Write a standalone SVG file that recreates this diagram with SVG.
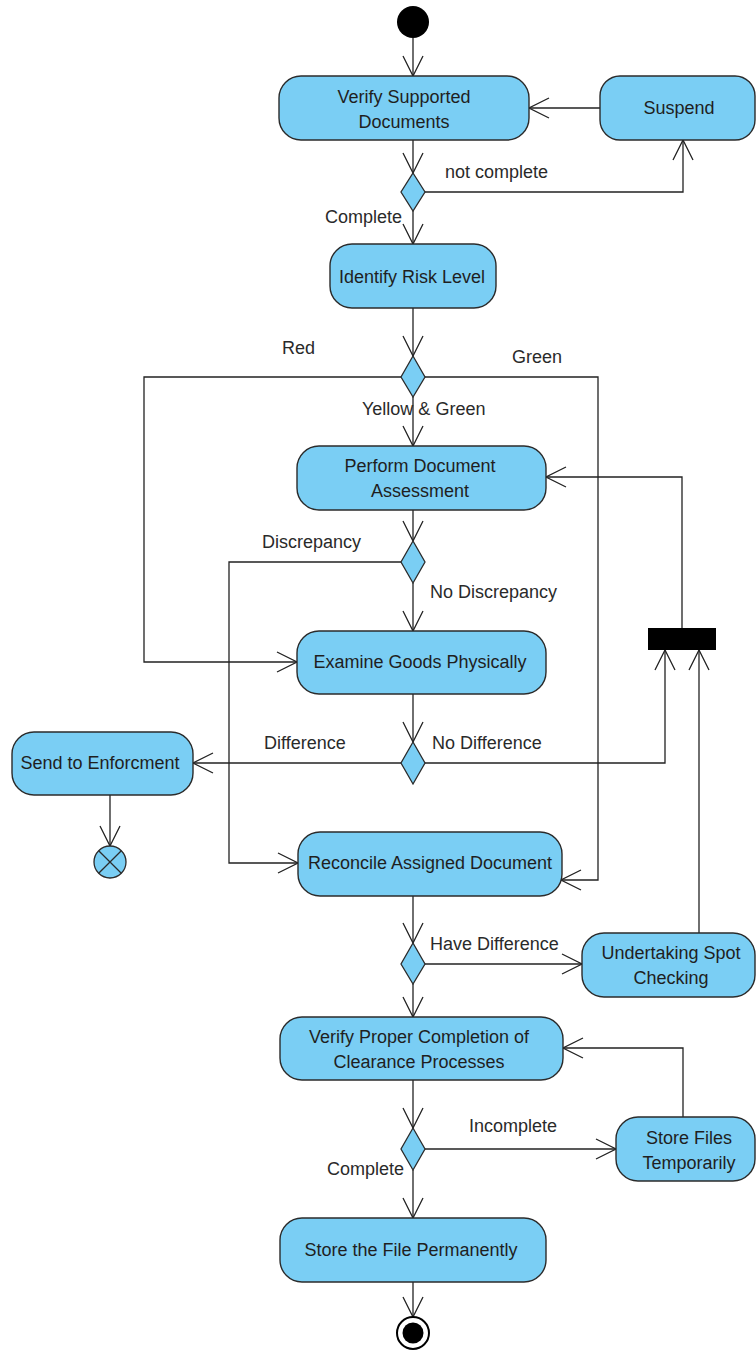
<svg xmlns="http://www.w3.org/2000/svg" width="756" height="1350" viewBox="0 0 756 1350">
  <defs>
    <style>
      .act { fill: #7acef4; stroke: #2b2b2b; stroke-width: 1.4; }
      .dec { fill: #7acef4; stroke: #2b2b2b; stroke-width: 1.3; }
      .txt { font-family: "Liberation Sans", Arial, sans-serif; font-size: 18px; fill: #1f1f1f; text-anchor: middle; }
      .lbl { font-family: "Liberation Sans", Arial, sans-serif; font-size: 18px; fill: #2a2a2a; }
      .flow { fill: none; stroke: #222; stroke-width: 1.3; marker-end: url(#arr); }
    </style>
    <marker id="arr" viewBox="-22 -11 23 22" refX="0" refY="0" markerWidth="23" markerHeight="22" markerUnits="userSpaceOnUse" orient="auto">
      <path d="M-20,-10 L0,0 L-20,10" fill="none" stroke="#222" stroke-width="1.3"/>
    </marker>
  </defs>

  <rect width="756" height="1350" fill="#ffffff"/>

  <!-- connectors -->
  <g id="connectors">
    <path class="flow" d="M413,38 L413,76"/>
    <path class="flow" d="M600,108 L529,108"/>
    <path class="flow" d="M413,140 L413,173"/>
    <path class="flow" d="M425,192 L683,192 L683,140"/>
    <path class="flow" d="M413,211 L413,244"/>
    <path class="flow" d="M413,308 L413,356"/>
    <path class="flow" d="M401,377 L144,377 L144,662 L297,662"/>
    <path class="flow" d="M425,377 L598,377 L598,880 L561,880"/>
    <path class="flow" d="M413,397 L413,446"/>
    <path class="flow" d="M413,510 L413,541"/>
    <path class="flow" d="M401,562 L229,562 L229,863 L298,863"/>
    <path class="flow" d="M413,583 L413,631"/>
    <path class="flow" d="M682,628 L682,477 L546,477"/>
    <path class="flow" d="M413,694 L413,742"/>
    <path class="flow" d="M401,763 L193,763"/>
    <path class="flow" d="M425,763 L665,763 L665,650"/>
    <path class="flow" d="M110,795 L110,846"/>
    <path class="flow" d="M413,896 L413,943"/>
    <path class="flow" d="M425,964 L582,964"/>
    <path class="flow" d="M699,933 L699,650"/>
    <path class="flow" d="M413,984 L413,1017"/>
    <path class="flow" d="M413,1080 L413,1128"/>
    <path class="flow" d="M425,1149 L616,1149"/>
    <path class="flow" d="M683,1117 L683,1048 L563,1048"/>
    <path class="flow" d="M413,1170 L413,1218"/>
    <path class="flow" d="M413,1282 L413,1317"/>
  </g>

  <!-- guard labels -->
  <g id="labels">
    <text class="lbl" x="445" y="178">not complete</text>
    <text class="lbl" x="325" y="223">Complete</text>
    <text class="lbl" x="282" y="354">Red</text>
    <text class="lbl" x="512" y="363">Green</text>
    <text class="lbl" x="362" y="415">Yellow &amp; Green</text>
    <text class="lbl" x="262" y="548">Discrepancy</text>
    <text class="lbl" x="430" y="598">No Discrepancy</text>
    <text class="lbl" x="264" y="749">Difference</text>
    <text class="lbl" x="432" y="749">No Difference</text>
    <text class="lbl" x="430" y="950">Have Difference</text>
    <text class="lbl" x="469" y="1132">Incomplete</text>
    <text class="lbl" x="327" y="1175">Complete</text>
  </g>

  <g id="start">
    <circle cx="413" cy="22" r="16" fill="#000"/>
  </g>

  <g id="verify-docs">
    <rect class="act" x="279" y="76" width="250" height="64" rx="22"/>
    <text class="txt" x="404" y="103">Verify Supported</text>
    <text class="txt" x="404" y="128">Documents</text>
  </g>

  <g id="suspend">
    <rect class="act" x="600" y="76" width="155" height="64" rx="20"/>
    <text class="txt" x="679" y="114">Suspend</text>
  </g>

  <g id="dec-complete">
    <polygon class="dec" points="413,173 425,192 413,211 401,192"/>
  </g>

  <g id="risk-level">
    <rect class="act" x="330" y="244" width="166" height="64" rx="22"/>
    <text class="txt" x="412" y="283">Identify Risk Level</text>
  </g>

  <g id="dec-risk">
    <polygon class="dec" points="413,356 425,377 413,397 401,377"/>
  </g>

  <g id="doc-assessment">
    <rect class="act" x="297" y="446" width="249" height="64" rx="22"/>
    <text class="txt" x="420" y="472">Perform Document</text>
    <text class="txt" x="420" y="497">Assessment</text>
  </g>

  <g id="dec-discrepancy">
    <polygon class="dec" points="413,541 425,562 413,583 401,562"/>
  </g>

  <g id="examine-goods">
    <rect class="act" x="297" y="631" width="249" height="63" rx="22"/>
    <text class="txt" x="420" y="668">Examine Goods Physically</text>
  </g>

  <g id="join-bar">
    <rect x="648" y="628" width="68" height="22" fill="#000"/>
  </g>

  <g id="dec-difference">
    <polygon class="dec" points="413,742 425,763 413,784 401,763"/>
  </g>

  <g id="enforcement">
    <rect class="act" x="12" y="732" width="181" height="63" rx="22"/>
    <text class="txt" x="100" y="769">Send to Enforcment</text>
  </g>

  <g id="flow-final">
    <circle class="dec" cx="110" cy="862" r="16"/>
    <path d="M98.7,850.7 L121.3,873.3 M121.3,850.7 L98.7,873.3" stroke="#2b2b2b" stroke-width="1.3"/>
  </g>

  <g id="reconcile">
    <rect class="act" x="298" y="832" width="264" height="64" rx="22"/>
    <text class="txt" x="430" y="869">Reconcile Assigned Document</text>
  </g>

  <g id="dec-have-diff">
    <polygon class="dec" points="413,943 425,964 413,984 401,964"/>
  </g>

  <g id="spot-checking">
    <rect class="act" x="582" y="933" width="173" height="64" rx="22"/>
    <text class="txt" x="671" y="959">Undertaking Spot</text>
    <text class="txt" x="671" y="984">Checking</text>
  </g>

  <g id="verify-completion">
    <rect class="act" x="280" y="1017" width="283" height="63" rx="22"/>
    <text class="txt" x="419" y="1043">Verify Proper Completion of</text>
    <text class="txt" x="419" y="1068">Clearance Processes</text>
  </g>

  <g id="dec-incomplete">
    <polygon class="dec" points="413,1128 425,1149 413,1170 401,1149"/>
  </g>

  <g id="store-temp">
    <rect class="act" x="616" y="1117" width="139" height="64" rx="22"/>
    <text class="txt" x="689" y="1144">Store Files</text>
    <text class="txt" x="689" y="1169">Temporarily</text>
  </g>

  <g id="store-permanent">
    <rect class="act" x="280" y="1218" width="266" height="64" rx="22"/>
    <text class="txt" x="411" y="1256">Store the File Permanently</text>
  </g>

  <g id="end">
    <circle cx="413" cy="1333" r="16" fill="#fff" stroke="#000" stroke-width="2"/>
    <circle cx="413" cy="1333" r="10.5" fill="#000"/>
  </g>
</svg>
